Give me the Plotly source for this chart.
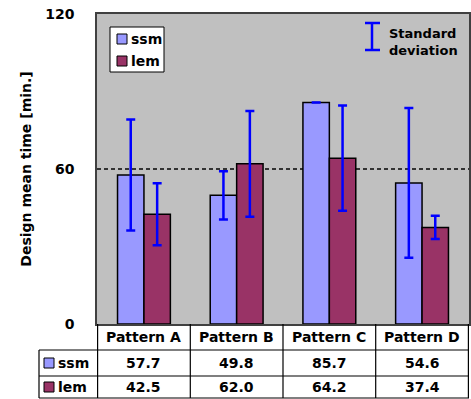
import plotly.graph_objects as go

categories = ["Pattern A", "Pattern B", "Pattern C", "Pattern D"]
ssm = [57.7, 49.8, 85.7, 54.6]
lem = [42.5, 62.0, 64.2, 37.4]
ssm_sd = [21.5, 9.3, None, 29.0]
lem_sd = [12.0, 20.5, 20.4, 4.5]
series_names = ["ssm", "lem"]
y_ticks = [0, 60, 120]
y_title = "Design mean time [min.]"
sd_label = "Standard<br>deviation"

SSM_COLOR = "#9999FF"
LEM_COLOR = "#993366"
FONT = "DejaVu Sans"
series_colors = [SSM_COLOR, LEM_COLOR]

W, H = 471, 399
L, R, T, B = 97, 2, 14, 75
PW, PH = W - L - R, H - T - B


def px(xp):
    return (xp - L) / PW


def py(yp):
    return (H - B - yp) / PH


def bfont(size=13):
    return dict(family=FONT, size=size, color="black", weight="bold")


fig = go.Figure()
for name, vals, sds, col in zip(series_names, [ssm, lem], [ssm_sd, lem_sd], series_colors):
    fig.add_trace(go.Bar(
        x=categories, y=vals, name=name, showlegend=False,
        marker=dict(color=col, line=dict(color="black", width=1.5)),
        error_y=dict(type="data", array=sds, color="blue", thickness=2.5, width=4.5, visible=True),
        hoverinfo="skip",
    ))

shapes = []
annotations = []


def text(x, y, s, xref="paper", xanchor="center", size=14, align="center"):
    annotations.append(dict(x=x, xref=xref, y=y, yref="paper", text=s, showarrow=False,
                            xanchor=xanchor, yanchor="middle", align=align, font=bfont(size)))


# table lines
y_hdr = py(350)
y_r1 = py(376)
y_r2 = py(398)
x_tbl = px(39)
line = dict(color="black", width=1.2)
for i in range(len(categories) + 1):
    shapes.append(dict(type="line", xref="x", yref="paper", x0=i - 0.5, x1=i - 0.5,
                       y0=0, y1=y_r2, line=line))
shapes.append(dict(type="line", xref="paper", yref="paper", x0=x_tbl, x1=x_tbl, y0=y_hdr, y1=y_r2, line=line))
for yy in [y_hdr, y_r1, y_r2]:
    shapes.append(dict(type="line", xref="paper", yref="paper", x0=x_tbl, x1=1, y0=yy, y1=yy, line=line))

# table text
row_y = [py(337), py(363), py(387)]
for i, c in enumerate(categories):
    text(c, row_y[0], c, xref="x")
    text(c, row_y[1], f"{ssm[i]:.1f}", xref="x")
    text(c, row_y[2], f"{lem[i]:.1f}", xref="x")

for k, (name, col) in enumerate(zip(series_names, series_colors)):
    yc = [363, 387][k]
    shapes.append(dict(type="rect", xref="paper", yref="paper", x0=px(44), x1=px(54),
                       y0=py(yc - 5), y1=py(yc + 5), fillcolor=col, line=dict(color="black", width=1)))
    text(px(56), py(yc), name, xanchor="left")

# legend box (top-left inside plot)
shapes.append(dict(type="rect", xref="paper", yref="paper", x0=px(110), x1=px(164),
                    y0=py(27), y1=py(72), fillcolor="white", line=dict(color="black", width=1)))
for k, (name, col) in enumerate(zip(series_names, series_colors)):
    yc = [39, 61][k]
    shapes.append(dict(type="rect", xref="paper", yref="paper", x0=px(117), x1=px(127),
                       y0=py(yc - 5), y1=py(yc + 5), fillcolor=col, line=dict(color="black", width=1)))
    text(px(129), py(yc), name, xanchor="left")

# standard deviation key
xk = px(372)
shapes.append(dict(type="line", xref="paper", yref="paper", x0=xk, x1=xk, y0=py(23), y1=py(50),
                   line=dict(color="blue", width=2.5)))
for yy in [23, 50]:
    shapes.append(dict(type="line", xref="paper", yref="paper", x0=px(365), x1=px(380), y0=py(yy), y1=py(yy),
                       line=dict(color="blue", width=2.5)))
text(px(387), py(42), sd_label, xanchor="left", size=13, align="left")

fig.update_layout(
    width=W, height=H,
    margin=dict(l=L, r=R, t=T, b=B, pad=0, autoexpand=False),
    paper_bgcolor="white",
    plot_bgcolor="#C0C0C0",
    barmode="group",
    bargap=0.43,
    bargroupgap=0,
    shapes=shapes,
    annotations=annotations,
    showlegend=False,
    hovermode=False,
    xaxis=dict(showticklabels=False, ticks="", showline=True, mirror=True,
               linecolor="#404040", linewidth=1.5, showgrid=False, automargin=False),
    yaxis=dict(range=[0, 120], tickvals=y_ticks, ticks="", showline=True, mirror=True,
               linecolor="#404040", linewidth=1.5, showgrid=True, gridcolor="#333333",
               griddash="4px,3px", gridwidth=1.5, zeroline=False, ticklabelstandoff=18, automargin=False,
               tickfont=bfont(14),
               title=dict(text=y_title, standoff=10, font=bfont(14))),
)

fig.write_html("out.html", config={"displayModeBar": False},
               post_script="document.body.style.margin='0';document.body.style.overflow='hidden';")
